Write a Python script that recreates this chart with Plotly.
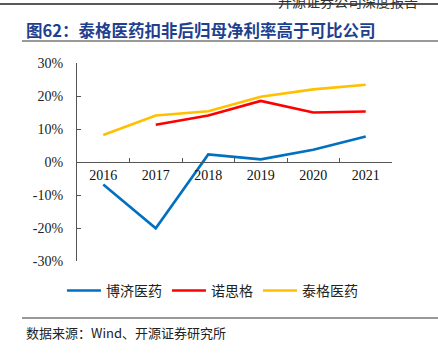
import plotly.graph_objects as go

years = ["2016", "2017", "2018", "2019", "2020", "2021"]
boji = [-6.8, -20.1, 2.3, 0.8, 3.7, 7.7]
nuosige = [None, 11.3, 14.1, 18.5, 15.0, 15.3]
taige = [8.2, 14.1, 15.4, 19.8, 22.0, 23.4]
yticks = [-30, -20, -10, 0, 10, 20, 30]

serif = "Liberation Serif, Times New Roman, serif"
cjk = "Noto Sans CJK SC"

fig = go.Figure()
for name, vals, col in [("博济医药", boji, "#0070C0"), ("诺思格", nuosige, "#FF0000"), ("泰格医药", taige, "#FFC000")]:
    fig.add_trace(go.Scatter(x=years, y=vals, name=name, mode="lines",
                             line=dict(color=col, width=2.6)))

fig.update_layout(
    width=438, height=354,
    margin=dict(l=77, r=46, t=63, b=93),
    paper_bgcolor="white", plot_bgcolor="white",
    showlegend=True,
    legend=dict(orientation="h", x=0.43, xanchor="center", y=-0.07, yanchor="top",
                font=dict(family=cjk, size=14, color="#222"),
                itemwidth=34, tracegroupgap=0),
    xaxis=dict(type="category", anchor="free", position=0.5,
               showline=True, linecolor="#555", linewidth=1,
               ticks="inside", ticklen=4, tickcolor="#555", tickson="boundaries",
               tickfont=dict(family=serif, size=14, color="#111"),
               showgrid=False, range=[-0.5, 5.5]),
    yaxis=dict(range=[-30, 30], tickvals=yticks, ticktext=[f"{v}%" for v in yticks],
               showline=True, linecolor="#555", linewidth=1,
               ticks="inside", ticklen=4, tickcolor="#555", ticklabelstandoff=10,
               tickfont=dict(family=serif, size=14, color="#222"),
               showgrid=False, zeroline=False),
)

fig.add_annotation(text="<b>图62：泰格医药扣非后归母净利率高于可比公司</b>", xref="paper", yref="paper",
                   x=-53/315, y=1 + (63 - 30) / 198, xanchor="left", yanchor="middle",
                   showarrow=False, font=dict(family=cjk, size=16.5, color="#1F3F8F"))
fig.add_annotation(text="数据来源：Wind、开源证券研究所", xref="paper", yref="paper",
                   x=-53/315, y=-(332 - 261) / 198, xanchor="left", yanchor="middle",
                   showarrow=False, font=dict(family=cjk, size=13, color="#222"))
fig.add_annotation(text="开源证券公司深度报告", xref="paper", yref="paper",
                   x=1 + 28/315, y=1 + (63 - 1) / 198, xanchor="right", yanchor="middle",
                   showarrow=False, font=dict(family=cjk, size=14, color="#333"))

fig.add_shape(type="line", xref="paper", yref="paper",
              x0=-55/315, x1=1 + 46/315, y0=1 + (63 - 41) / 198, y1=1 + (63 - 41) / 198,
              line=dict(color="#777", width=1.5))
fig.add_shape(type="line", xref="paper", yref="paper",
              x0=-77/315, x1=1 + 46/315, y0=1 + (63 - 4) / 198, y1=1 + (63 - 4) / 198,
              line=dict(color="#222", width=1.5))
fig.add_shape(type="line", xref="paper", yref="paper",
              x0=-55/315, x1=1 + 46/315, y0=-(318 - 261) / 198, y1=-(318 - 261) / 198,
              line=dict(color="#333", width=1))

fig.write_html("out.html")
